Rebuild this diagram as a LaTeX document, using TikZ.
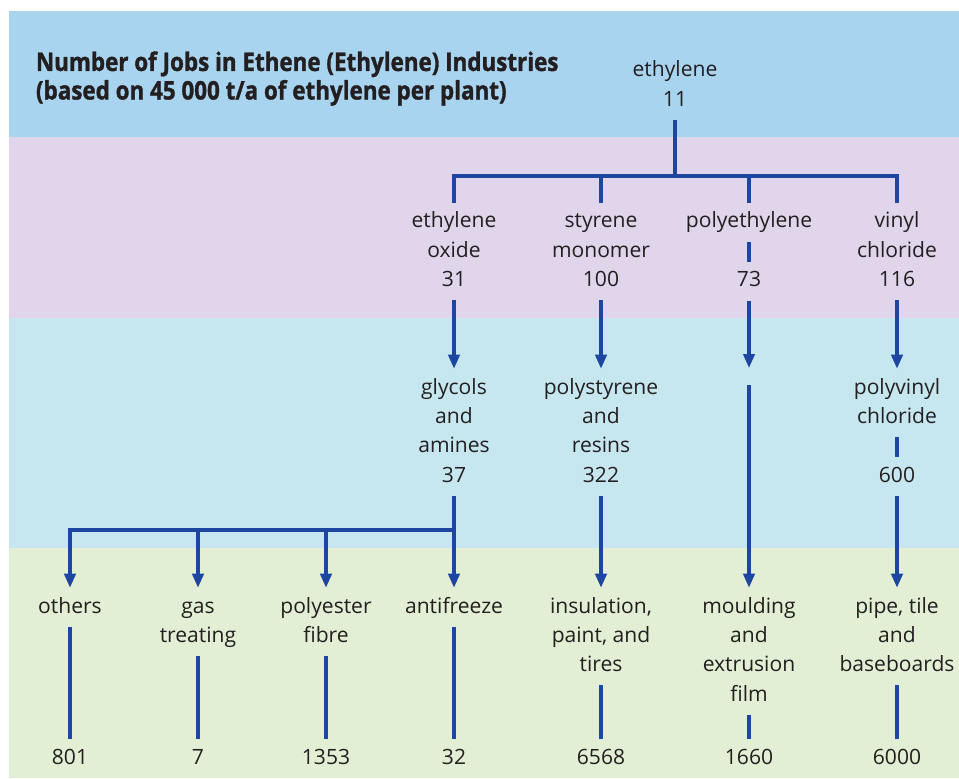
\documentclass[tikz,border=0pt]{standalone}
\usepackage{fontspec}
\setmainfont{Open Sans}
\newfontfamily\titlefont[FakeStretch=0.875, BoldFeatures={FakeBold=1.2}]{Open Sans}
\usetikzlibrary{arrows.meta}
\definecolor{bandA}{RGB}{168,212,240}
\definecolor{bandB}{RGB}{224,213,234}
\definecolor{bandC}{RGB}{199,231,240}
\definecolor{bandD}{RGB}{226,239,212}
\definecolor{lineblue}{RGB}{28,70,160}
\definecolor{txt}{RGB}{35,31,32}
\tikzset{
  lbl/.style={text=txt, font=\fontsize{15.8}{22.1}\selectfont, align=center,
    inner sep=0pt, outer sep=3.5pt, anchor=north},
  ttl/.style={text=txt, font=\titlefont\bfseries\fontsize{19.2}{21.4}\selectfont,
    align=left, inner sep=0pt, outer sep=0pt, anchor=north west},
  gapnode/.style={inner sep=0pt, outer sep=0pt, minimum height=12.75pt,
    minimum width=1pt, anchor=north},
  conn/.style={draw=lineblue, line width=2.4pt},
  arr/.style={conn, -{Triangle[length=10.5pt,width=8.5pt]}}
}
\begin{document}
\begin{tikzpicture}[x=0.75pt,y=-0.75pt]
\useasboundingbox (0,0) rectangle (959,778);
% bands
\fill[white] (0,0) rectangle (959,778);
\fill[bandA] (9,11) rectangle (959,137);
\fill[bandB] (9,137) rectangle (959,318);
\fill[bandC] (9,318) rectangle (959,548);
\fill[bandD] (9,548) rectangle (959,778);
% title
\node[ttl] (title) at (36,51) {\strut Number of Jobs in Ethene (Ethylene) Industries\\\strut (based on 45 000 t/a of ethylene per plant)};
% level 1
\node[lbl] (eth) at (675,51.7) {\strut ethylene\\\strut 11};
% level 2
\node[lbl] (eo) at (454,202.7) {\strut ethylene\\\strut oxide\\\strut 31};
\node[lbl] (sm) at (601,202.7) {\strut styrene\\\strut monomer\\\strut 100};
\node[lbl] (pen) at (749,202.7) {\strut polyethylene};
\node[lbl] (pev) at (749,261.7) {\strut 73};
\node[lbl] (vc) at (897,202.7) {\strut vinyl\\\strut chloride\\\strut 116};
% level 3
\node[lbl] (gly) at (454,368.7) {\strut glycols\\\strut and\\\strut amines\\\strut 37};
\node[lbl] (ps) at (601,368.7) {\strut polystyrene\\\strut and\\\strut resins\\\strut 322};
\node[gapnode] (pe3) at (749,368) {};
\node[lbl] (pvc) at (897,368.7) {\strut polyvinyl\\\strut chloride};
\node[lbl] (pvcv) at (897,457.2) {\strut 600};
% level 4
\node[lbl] (oth) at (70,587.7) {\strut others};
\node[lbl] (gas) at (198,587.7) {\strut gas\\\strut treating};
\node[lbl] (pol) at (326,587.7) {\strut polyester\\\strut fibre};
\node[lbl] (anti) at (454,587.7) {\strut antifreeze};
\node[lbl] (ins) at (601,587.7) {\strut insulation,\\\strut paint, and\\\strut tires};
\node[lbl] (mould) at (749,587.7) {\strut moulding\\\strut and\\\strut extrusion\\\strut film};
\node[lbl] (pipe) at (897,587.7) {\strut pipe, tile\\\strut and\\\strut baseboards};
% numbers
\node[lbl] (n1) at (70,738.7) {\strut 801};
\node[lbl] (n2) at (198,738.7) {\strut 7};
\node[lbl] (n3) at (326,738.7) {\strut 1353};
\node[lbl] (n4) at (454,738.7) {\strut 32};
\node[lbl] (n5) at (601,738.7) {\strut 6568};
\node[lbl] (n6) at (749,738.7) {\strut 1660};
\node[lbl] (n7) at (897,738.7) {\strut 6000};
% connectors
\coordinate (bus1) at (675,176);
\coordinate (bus2) at (454,530);
\draw[conn] (eth.south) -- (bus1);
\draw[conn] (eo.north) |- (bus1) -| (vc.north);
\draw[conn] (sm.north) -- (sm.north |- bus1);
\draw[conn] (pen.north) -- (pen.north |- bus1);
\draw[conn] (pen) -- (pev);
\draw[arr] (eo) -- (gly);
\draw[arr] (sm) -- (ps);
\draw[arr] (pev) -- (pe3);
\draw[arr] (vc) -- (pvc);
\draw[conn] (pvc) -- (pvcv);
\draw[arr] (gly) -- (anti);
\draw[arr] (bus2) -| (oth.north);
\draw[arr] (gas.north |- bus2) -- (gas.north);
\draw[arr] (pol.north |- bus2) -- (pol.north);
\draw[arr] (ps) -- (ins);
\draw[arr] (pe3) -- (mould);
\draw[arr] (pvcv) -- (pipe);
\draw[conn] (oth) -- (n1);
\draw[conn] (gas) -- (n2);
\draw[conn] (pol) -- (n3);
\draw[conn] (anti) -- (n4);
\draw[conn] (ins) -- (n5);
\draw[conn] (mould) -- (n6);
\draw[conn] (pipe) -- (n7);
\end{tikzpicture}
\end{document}
